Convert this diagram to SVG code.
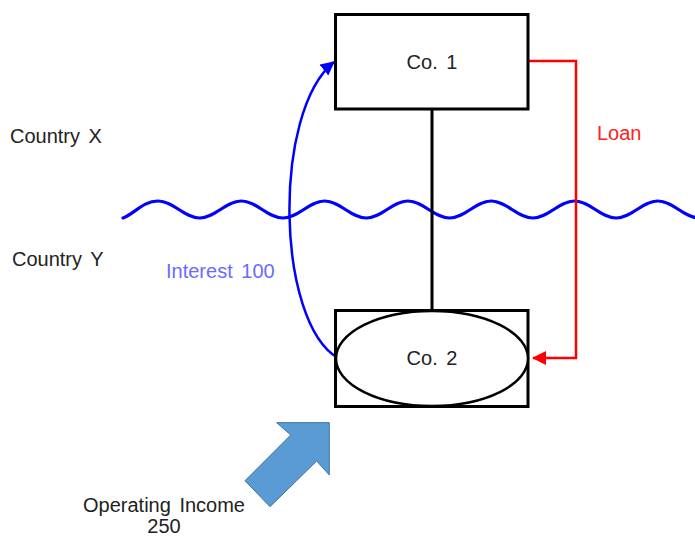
<svg xmlns="http://www.w3.org/2000/svg" width="695" height="537" viewBox="0 0 695 537">
<style>
text{font-family:"Liberation Sans",Arial,sans-serif;font-size:20px;fill:#222;word-spacing:3px}
.box{fill:#fff;stroke:#000;stroke-width:3}
.lbl{text-anchor:middle}
</style>
<defs>
<marker id="ab" markerWidth="14" markerHeight="14" refX="13" refY="7" orient="auto" markerUnits="userSpaceOnUse" viewBox="0 0 14 14"><path d="M0,0 L14,7 L0,14 z" fill="#0000ff"/></marker>
<marker id="ar" markerWidth="14" markerHeight="14" refX="13" refY="7" orient="auto" markerUnits="userSpaceOnUse" viewBox="0 0 14 14"><path d="M0,0 L14,7 L0,14 z" fill="#ff0000"/></marker>
</defs>
<rect width="695" height="537" fill="#fff"/>
<path id="border" d="M123,218 C134,214 143,201 158,201 C173.2,201 184.5,218 199.65,218 S226.1,201 241.3,201 S267.7,218 282.95,218 S309.4,201 324.6,201 S351,218 366.25,218 S392.7,201 407.9,201 S434.3,218 449.55,218 S476,201 491.2,201 S517.6,218 532.85,218 S559.3,201 574.5,201 S600.9,218 616.15,218 S642.6,201 657.8,201 S684.2,218 699.45,218" fill="none" stroke="#0000ff" stroke-width="3.2" stroke-linecap="round"/>
<g id="connectors">
<line x1="432" y1="109" x2="432" y2="311" stroke="#000" stroke-width="3"/>
<path d="M528,61 H576 V358 H533" fill="none" stroke="#ff0000" stroke-width="2.5" marker-end="url(#ar)"/>
<path d="M338,358 C276,322 272,112 334,62" fill="none" stroke="#0000ff" stroke-width="2.5" marker-end="url(#ab)"/>
</g>
<g id="co1">
<rect class="box" x="335.5" y="14.5" width="192.5" height="94.5"/>
<text class="lbl" x="432" y="69">Co. 1</text>
</g>
<g id="co2">
<rect class="box" x="335.5" y="310.5" width="192.5" height="96"/>
<ellipse cx="432" cy="358.5" rx="96" ry="47.5" fill="#fff" stroke="#000" stroke-width="2.5"/>
<text class="lbl" x="432" y="365">Co. 2</text>
</g>
<g id="income">
<polygon points="276.7,422.7 329.3,422.7 329.3,475 316.7,461 270,506.7 245,480.7 290.7,435" fill="#5b9bd5" stroke="#41719c" stroke-width="1"/>
</g>
<text x="10" y="143">Country X</text>
<text x="12" y="266">Country Y</text>
<text x="166" y="278" style="fill:#6b6bff">Interest 100</text>
<text x="597" y="140" style="fill:#ff2020">Loan</text>
<text class="lbl" x="164" y="512">Operating Income</text>
<text class="lbl" x="164" y="533">250</text>
</svg>
